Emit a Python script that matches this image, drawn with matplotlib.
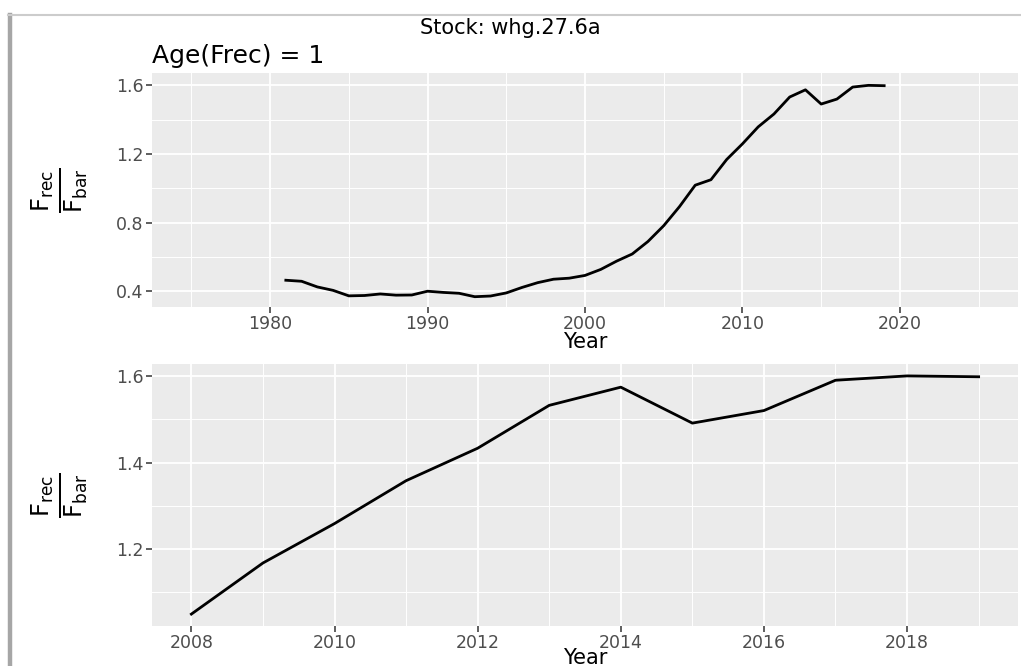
import matplotlib
matplotlib.use('Agg')
import matplotlib.pyplot as plt
from matplotlib.lines import Line2D
from matplotlib.ticker import MultipleLocator

plt.rcParams['font.family'] = ['DejaVu Sans']
plt.rcParams['mathtext.fontset'] = 'dejavusans'

# Ratio Frec / Fbar, age 1, whg.27.6a
years = list(range(1981, 2020))
ratio = [0.464, 0.458, 0.425, 0.405, 0.373, 0.375, 0.384, 0.377, 0.378, 0.400,
         0.393, 0.388, 0.368, 0.372, 0.390, 0.422, 0.450, 0.470, 0.476, 0.492,
         0.527, 0.575, 0.617, 0.690, 0.782, 0.893, 1.018, 1.050, 1.168, 1.259,
         1.358, 1.433, 1.532, 1.574, 1.491, 1.520, 1.590, 1.600, 1.598]

# last years shown in the lower panel
recent_years = years[-12:]
recent_ratio = ratio[-12:]

stock_title = 'Stock: whg.27.6a'
age_title = 'Age(Frec) = 1'
ylab = r'$\frac{\mathrm{F_{rec}}}{\mathrm{F_{bar}}}$'

W, H = 1021, 666
fig = plt.figure(figsize=(W / 100, H / 100), dpi=100)

# screenshot frame lines
fig.add_artist(Line2D([10 / W, 10 / W], [0, 1 - 15 / H], color='#a6a6a6', lw=3.2))
fig.add_artist(Line2D([8 / W, 1], [1 - 15 / H, 1 - 15 / H], color='#cccccc', lw=1.5))


def style_axes(ax):
    ax.set_facecolor('#ebebeb')
    for s in ax.spines.values():
        s.set_visible(False)
    ax.grid(which='major', color='white', lw=1.3)
    ax.grid(which='minor', color='white', lw=0.7)
    ax.set_axisbelow(True)
    ax.tick_params(which='major', length=4, width=1.1, color='#333333',
                   labelcolor='#4d4d4d', labelsize=12.5, pad=2)
    ax.tick_params(which='minor', length=0)


# top panel
ax1 = fig.add_axes([152 / W, 1 - 307 / H, 866 / W, 234 / H])
style_axes(ax1)
ax1.plot(years, ratio, color='black', lw=2.0)
ax1.set_xlim(1972.5, 2027.5)
ax1.set_ylim(0.308, 1.672)
ax1.xaxis.set_major_locator(MultipleLocator(10))
ax1.xaxis.set_minor_locator(MultipleLocator(5))
ax1.set_yticks([0.4, 0.8, 1.2, 1.6])
ax1.yaxis.set_minor_locator(MultipleLocator(0.2))
ax1.set_title(age_title, loc='left', fontsize=18, pad=7)

# bottom panel
ax2 = fig.add_axes([152 / W, 1 - 626 / H, 866 / W, 262 / H])
style_axes(ax2)
ax2.plot(recent_years, recent_ratio, color='black', lw=2.0)
ax2.set_xlim(2007.45, 2019.55)
ax2.set_ylim(1.0225, 1.6275)
ax2.xaxis.set_major_locator(MultipleLocator(2))
ax2.xaxis.set_minor_locator(MultipleLocator(1))
ax2.set_yticks([1.2, 1.4, 1.6])
ax2.yaxis.set_minor_locator(MultipleLocator(0.1))

for ax, xy in [(ax1, -0.15), (ax2, -0.122)]:
    ax.set_xlabel('Year', fontsize=15, color='black')
    ax.xaxis.label.set_va('center')
    ax.xaxis.set_label_coords(0.5, xy)
    ax.set_ylabel(ylab, fontsize=25, color='black')
    ax.yaxis.label.set_va('center')
    ax.yaxis.set_label_coords(-0.107, 0.5)

fig.text(0.5, 1 - 34 / H, stock_title, ha='center', va='baseline', fontsize=15)

fig.savefig('out.png', dpi=100)
plt.close(fig)
